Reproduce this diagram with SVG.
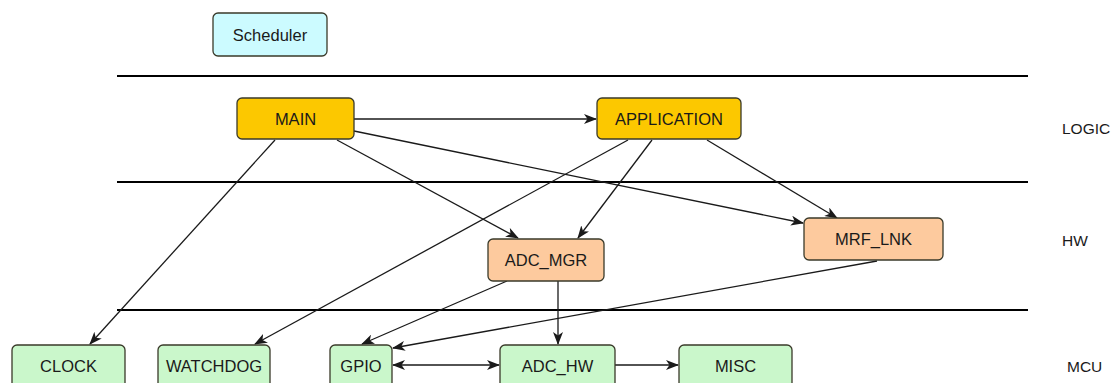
<svg xmlns="http://www.w3.org/2000/svg" width="1115" height="383" viewBox="0 0 1115 383">
<style>
.n{stroke:#3a3a2a;stroke-width:1.3}
.t{font-family:"Liberation Sans",Arial,sans-serif;font-size:16.5px;fill:#1a1a1a;text-anchor:middle;dominant-baseline:central}
.lane{stroke:#000;stroke-width:2.2}
.e{stroke:#1a1a1a;stroke-width:1.3;fill:none;marker-end:url(#a)}
.sched{fill:#ccfbff}
.logic{fill:#fcc800}
.hw{fill:#fdca9e}
.mcu{fill:#caf7cb}
.lbl{font-family:"Liberation Sans",Arial,sans-serif;font-size:15.5px;fill:#1a1a1a;dominant-baseline:central}
</style>
<defs>
<marker id="a" viewBox="0 0 13 10" refX="12" refY="5" markerWidth="13" markerHeight="10" markerUnits="userSpaceOnUse" orient="auto-start-reverse">
<path d="M0,0 L13,5 L0,10 L3.5,5 Z" fill="#1a1a1a"/>
</marker>
</defs>
<rect width="1115" height="383" fill="#fff"/>
<g id="lanes">
<line class="lane" x1="117" y1="76" x2="1028" y2="76"/>
<line class="lane" x1="117" y1="182" x2="1028" y2="182"/>
<line class="lane" x1="117" y1="310" x2="1028" y2="310"/>
<text class="lbl" x="1062" y="128">LOGIC</text>
<text class="lbl" x="1062" y="240">HW</text>
<text class="lbl" x="1067" y="366">MCU</text>
</g>
<g id="connectors">
<line class="e" x1="354" y1="119" x2="596" y2="119"/>
<line class="e" x1="275" y1="140" x2="90" y2="344"/>
<line class="e" x1="337" y1="140" x2="518" y2="238"/>
<line class="e" x1="354" y1="131" x2="803" y2="223"/>
<line class="e" x1="628" y1="140" x2="255" y2="344"/>
<line class="e" x1="652" y1="140" x2="578" y2="238"/>
<line class="e" x1="707" y1="140" x2="837" y2="218"/>
<line class="e" x1="507" y1="281" x2="362" y2="344"/>
<line class="e" x1="558" y1="281" x2="558" y2="344"/>
<line class="e" x1="877" y1="261" x2="393" y2="348"/>
<line class="e" x1="393" y1="365" x2="499" y2="365" marker-start="url(#a)"/>
<line class="e" x1="615" y1="365" x2="678" y2="365"/>
</g>
<g id="scheduler"><rect class="n sched" x="213" y="13" width="114" height="43" rx="5"/><text class="t" x="270" y="35">Scheduler</text></g>
<g id="main"><rect class="n logic" x="237" y="98" width="117" height="41" rx="5"/><text class="t" x="295.5" y="119">MAIN</text></g>
<g id="application"><rect class="n logic" x="597" y="98" width="144" height="41" rx="5"/><text class="t" x="669" y="119">APPLICATION</text></g>
<g id="adc_mgr"><rect class="n hw" x="488" y="239" width="116" height="42" rx="5"/><text class="t" x="546" y="260">ADC_MGR</text></g>
<g id="mrf_lnk"><rect class="n hw" x="804" y="218" width="139" height="42" rx="5"/><text class="t" x="873.5" y="239">MRF_LNK</text></g>
<g id="clock"><rect class="n mcu" x="12" y="345" width="113" height="45" rx="5"/><text class="t" x="68.5" y="366">CLOCK</text></g>
<g id="watchdog"><rect class="n mcu" x="158" y="345" width="112" height="45" rx="5"/><text class="t" x="214" y="366">WATCHDOG</text></g>
<g id="gpio"><rect class="n mcu" x="330" y="345" width="62" height="45" rx="5"/><text class="t" x="361" y="366">GPIO</text></g>
<g id="adc_hw"><rect class="n mcu" x="500" y="345" width="115" height="45" rx="5"/><text class="t" x="557.5" y="366">ADC_HW</text></g>
<g id="misc"><rect class="n mcu" x="679" y="345" width="113" height="45" rx="5"/><text class="t" x="735.5" y="366">MISC</text></g>
</svg>
